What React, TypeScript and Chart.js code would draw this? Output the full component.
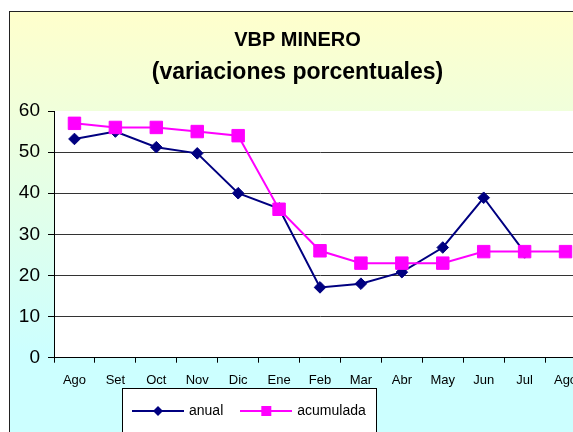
import React, { useEffect, useRef } from 'react';
import { Chart, registerables } from 'chart.js';

Chart.register(...registerables);

const categories = ['Ago', 'Set', 'Oct', 'Nov', 'Dic', 'Ene', 'Feb', 'Mar', 'Abr', 'May', 'Jun', 'Jul', 'Ago'];
const anual = [53.2, 55.0, 51.2, 49.7, 40.0, 36.3, 17.1, 18.0, 20.8, 26.8, 38.9, 25.6, null];
const acumulada = [57.0, 56.0, 56.0, 55.0, 54.0, 36.1, 26.0, 23.0, 23.0, 23.0, 25.8, 25.8, 25.8];
const seriesNames = ['anual', 'acumulada'];
const yTicks = [0, 10, 20, 30, 40, 50, 60];
const titleLines = ['VBP MINERO', '(variaciones porcentuales)'];

const FONT = '"Liberation Sans", Arial, Helvetica, sans-serif';
const W = 580;
const H = 440;
const PLOT_BOTTOM = 346.7;
const PLOT_RIGHT = 577;
const NAVY = '#000080';
const MAGENTA = '#FF00FF';

function legendMarker(color: string, shape: 'diamond' | 'square') {
  const c = document.createElement('canvas');
  c.width = 52;
  c.height = 14;
  const g = c.getContext('2d')!;
  g.strokeStyle = color;
  g.lineWidth = 2;
  g.beginPath();
  g.moveTo(0, 7);
  g.lineTo(52, 7);
  g.stroke();
  g.fillStyle = color;
  if (shape === 'diamond') {
    g.beginPath();
    g.moveTo(21, 7);
    g.lineTo(26, 2);
    g.lineTo(31, 7);
    g.lineTo(26, 12);
    g.closePath();
    g.fill();
  } else {
    g.fillRect(21, 2, 10, 10);
  }
  return c;
}

const decorPlugin = {
  id: 'decor',
  afterLayout(chart: any) {
    // extend plot area to the chosen right edge (like the original, it runs past the frame)
    const ca = chart.chartArea;
    const x = chart.scales.x;
    if (x && ca && ca.right !== PLOT_RIGHT) {
      ca.right = PLOT_RIGHT;
      ca.width = ca.right - ca.left;
      x.right = PLOT_RIGHT;
      x.width = x.right - x.left;
      x.configure();
    }
    const lg = chart.legend;
    if (!lg) return;
    const w = lg.width;
    const h = lg.height;
    lg.left = 106;
    lg.right = lg.left + w;
    lg.top = 374;
    lg.bottom = lg.top + h;
  },
  beforeDraw(chart: any) {
    const { ctx, width, height, chartArea } = chart;
    ctx.save();
    const g = ctx.createLinearGradient(0, 0, 0, height);
    g.addColorStop(0, '#FFFFCC');
    g.addColorStop(0.78, '#CCFFFF');
    g.addColorStop(1, '#CCFFFF');
    ctx.fillStyle = g;
    ctx.fillRect(0, 0, width, height);
    ctx.fillStyle = '#FFFFFF';
    ctx.fillRect(chartArea.left, chartArea.top, chartArea.right - chartArea.left, chartArea.bottom - chartArea.top);
    ctx.strokeStyle = '#222';
    ctx.lineWidth = 1;
    ctx.strokeRect(0.5, 0.5, width - 1, height - 1);
    // legend frame
    ctx.fillStyle = '#FFFFFF';
    ctx.fillRect(113, 377, 254, 80);
    ctx.strokeStyle = '#000';
    ctx.strokeRect(113.5, 377.5, 254, 80);
    ctx.restore();
  },
};

export default function App() {
  const ref = useRef<HTMLCanvasElement | null>(null);

  useEffect(() => {
    if (!ref.current) return;
    const markers = [legendMarker(NAVY, 'diamond'), legendMarker(MAGENTA, 'square')];
    const chart = new Chart(ref.current, {
      type: 'line',
      data: {
        labels: categories,
        datasets: [
          {
            label: seriesNames[0],
            data: anual,
            borderColor: NAVY,
            backgroundColor: NAVY,
            borderWidth: 2,
            pointStyle: 'rectRot',
            pointRadius: 5.8,
            pointBorderWidth: 1,
            pointBackgroundColor: NAVY,
            pointBorderColor: NAVY,
            tension: 0,
            order: 1,
          },
          {
            label: seriesNames[1],
            data: acumulada,
            borderColor: MAGENTA,
            backgroundColor: MAGENTA,
            borderWidth: 2,
            pointStyle: 'rect',
            pointRadius: 8.8,
            pointBorderWidth: 1,
            pointBackgroundColor: MAGENTA,
            pointBorderColor: MAGENTA,
            tension: 0,
            order: 0,
          },
        ],
      },
      options: {
        responsive: false,
        animation: false,
        events: [],
        layout: { padding: { left: 0, right: 3, top: 0, bottom: 0 } },
        plugins: {
          title: {
            display: true,
            text: titleLines[0],
            color: '#000',
            font: { family: FONT, size: 20, weight: 'bold' },
            padding: { top: 17, bottom: 0 },
          },
          subtitle: {
            display: true,
            text: titleLines[1],
            color: '#000',
            font: { family: FONT, size: 23, weight: 'bold' },
            padding: { top: 6.6, bottom: 24.8 },
          },
          tooltip: { enabled: false },
          legend: {
            display: true,
            position: 'bottom',
            align: 'start',
            labels: {
              usePointStyle: true,
              pointStyleWidth: 48,
              padding: 19,
              color: '#000',
              font: { family: FONT, size: 14 },
              generateLabels: (c: any) =>
                c.data.datasets.map((ds: any, i: number) => ({
                  text: ds.label,
                  pointStyle: markers[i],
                  fillStyle: ds.borderColor,
                  strokeStyle: ds.borderColor,
                  lineWidth: 0,
                  hidden: false,
                  datasetIndex: i,
                  fontColor: '#000',
                })),
            },
          },
        },
        scales: {
          x: {
            offset: true,
            grid: {
              display: true,
              drawOnChartArea: false,
              drawTicks: true,
              tickLength: 5,
              tickColor: '#000',
              offset: true,
            },
            border: { color: '#000', width: 1 },
            ticks: {
              color: '#000',
              font: { family: FONT, size: 13 },
              padding: 10,
              maxRotation: 0,
              autoSkip: false,
            },
            afterFit: (s: any) => {
              const lh = s.chart.legend ? s.chart.legend.height : 0;
              s.height = H - PLOT_BOTTOM - lh;
              s.paddingRight = 0;
              s.paddingLeft = 0;
            },
          },
          y: {
            min: yTicks[0],
            max: yTicks[yTicks.length - 1],
            ticks: {
              stepSize: yTicks[1] - yTicks[0],
              color: '#000',
              font: { family: FONT, size: 19 },
              padding: 8,
            },
            grid: {
              color: (c: any) => (c.tick && c.tick.value === yTicks[yTicks.length - 1] ? 'rgba(0,0,0,0)' : '#333'),
              tickColor: '#000',
              tickLength: 6,
              lineWidth: 1,
              drawTicks: true,
            },
            border: { color: '#000', width: 1 },
            afterFit: (s: any) => {
              s.width = 45;
            },
          },
        },
      },
      plugins: [decorPlugin],
    });
    return () => chart.destroy();
  }, []);

  return (
    <div style={{ position: 'absolute', left: 0, top: 0, width: 573, height: 432, overflow: 'hidden', background: '#fff' }}>
      <div style={{ position: 'absolute', left: 9, top: 11, width: W, height: H }}>
        <canvas ref={ref} width={W} height={H} style={{ display: 'block' }} />
      </div>
    </div>
  );
}
